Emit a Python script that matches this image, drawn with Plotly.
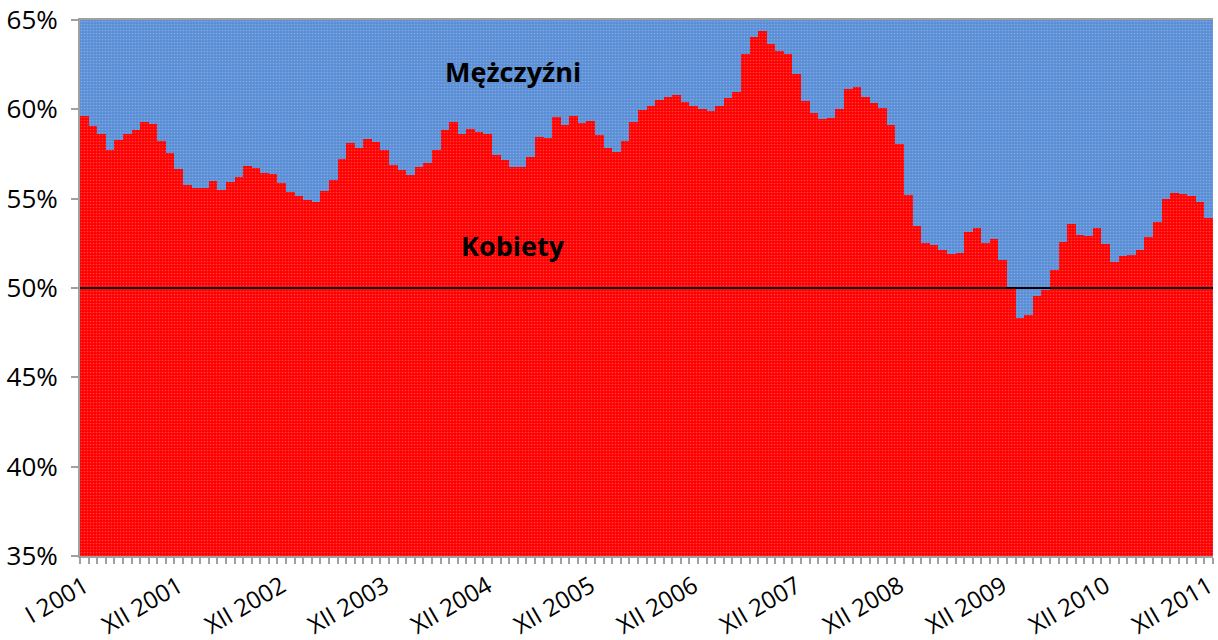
import plotly.graph_objects as go

roman = ["I", "II", "III", "IV", "V", "VI", "VII", "VIII", "IX", "X", "XI", "XII"]
years = list(range(2001, 2012))
months = [f"{r} {y}" for y in years for r in roman]

# share of women (%) per month, I 2001 - XII 2011
kobiety = [
    59.63, 59.09, 58.60, 57.73, 58.29, 58.64, 58.83, 59.29, 59.20, 58.25, 57.56, 56.66,
    55.77, 55.62, 55.60, 55.99, 55.50, 55.93, 56.20, 56.83, 56.72, 56.44, 56.38, 55.88,
    55.39, 55.15, 54.93, 54.83, 55.45, 56.05, 57.20, 58.14, 57.84, 58.32, 58.17, 57.73,
    56.89, 56.61, 56.34, 56.77, 57.00, 57.73, 58.84, 59.29, 58.64, 58.90, 58.75, 58.64,
    57.45, 57.15, 56.77, 56.77, 57.33, 58.45, 58.40, 59.55, 59.11, 59.61, 59.24, 59.35,
    58.56, 57.86, 57.63, 58.21, 59.31, 59.96, 60.19, 60.52, 60.71, 60.79, 60.43, 60.19,
    60.04, 59.93, 60.19, 60.64, 60.97, 63.12, 64.05, 64.40, 63.67, 63.27, 63.10, 61.98,
    60.48, 59.80, 59.48, 59.53, 60.02, 61.12, 61.23, 60.67, 60.34, 60.06, 59.12, 58.04,
    55.19, 53.49, 52.50, 52.41, 52.13, 51.91, 51.98, 53.15, 53.36, 52.50, 52.74, 51.59,
    49.93, 48.31, 48.49, 49.57, 49.89, 51.01, 52.58, 53.58, 52.95, 52.91, 53.36, 52.48,
    51.46, 51.79, 51.85, 52.13, 52.84, 53.72, 54.97, 55.30, 55.26, 55.15, 54.82, 53.92,
]
mezczyzni = [round(100 - v, 2) for v in kobiety]

label_months = ["I 2001"] + [f"XII {y}" for y in years]
y_ticks = [0.35, 0.40, 0.45, 0.50, 0.55, 0.60, 0.65]

idx = list(range(len(months)))
w = [v / 100 for v in kobiety]
m = [v / 100 for v in mezczyzni]

RED = "#FF0000"
BLUE = "#5A8ED6"
FONT = "Open Sans"

fig = go.Figure()
fig.add_trace(go.Bar(
    x=idx, y=w, name="Kobiety", marker=dict(color=RED, line=dict(width=0),
        pattern=dict(shape=".", fgcolor="white", fgopacity=0.25, size=3, solidity=0.25)),
    customdata=months, hovertemplate="%{customdata}: %{y:.1%}<extra>Kobiety</extra>",
))
fig.add_trace(go.Bar(
    x=idx, y=m, name="Mężczyźni", marker=dict(color=BLUE, line=dict(width=0),
        pattern=dict(shape=".", fgcolor="white", fgopacity=0.25, size=3, solidity=0.25)),
    customdata=months, hovertemplate="%{customdata}: %{y:.1%}<extra>Mężczyźni</extra>",
))

fig.add_shape(type="line", xref="paper", x0=0, x1=1, yref="y", y0=0.5, y1=0.5,
              line=dict(color="black", width=2), layer="above")

fig.add_annotation(text="<b>Mężczyźni</b>", xref="paper", yref="paper", x=0.382, y=0.903,
                   xanchor="center", yanchor="middle",
                   showarrow=False, font=dict(family=FONT, size=27, color="black"))
fig.add_annotation(text="<b>Kobiety</b>", xref="paper", yref="paper", x=0.382, y=0.580,
                   xanchor="center", yanchor="middle",
                   showarrow=False, font=dict(family=FONT, size=27, color="black"))

fig.update_layout(
    width=1218, height=640,
    margin=dict(l=80, r=5, t=20, b=84),
    barmode="stack", bargap=0,
    showlegend=False,
    paper_bgcolor="white", plot_bgcolor="white",
    font=dict(family=FONT, size=24, color="black"),
    xaxis=dict(
        range=[-0.5, len(months) - 0.5],
        automargin=False,
        tickmode="array",
        tickvals=[months.index(l) for l in label_months],
        ticktext=label_months,
        tickangle=-30,
        ticks="", showgrid=False, zeroline=False,
        showline=True, linecolor="#A0A0A0", linewidth=2, mirror=True,
        minor=dict(tick0=-0.5, dtick=1, ticks="outside", ticklen=6,
                   tickcolor="#A0A0A0", tickwidth=2, showgrid=False),
        tickfont=dict(family=FONT, size=24),
        ticklabelstandoff=5,
        ticklabeloverflow="allow",
    ),
    yaxis=dict(
        range=[0.35, 0.65],
        automargin=False,
        tickmode="array", tickvals=y_ticks, tickformat=".0%",
        ticks="outside", ticklen=7, tickcolor="#A0A0A0", tickwidth=2,
        showgrid=True, gridcolor="rgba(110,110,140,0.35)", gridwidth=1,
        zeroline=False,
        showline=True, linecolor="#A0A0A0", linewidth=2,
        layer="above traces",
        tickfont=dict(family=FONT, size=26),
        ticklabelstandoff=8,
        ticklabeloverflow="allow",
    ),
)

# remove the default page margin so the 1218x640 figure fills the window exactly
fig.write_html("out.html", config={"displayModeBar": False},
               post_script="document.body.style.margin='0';")
